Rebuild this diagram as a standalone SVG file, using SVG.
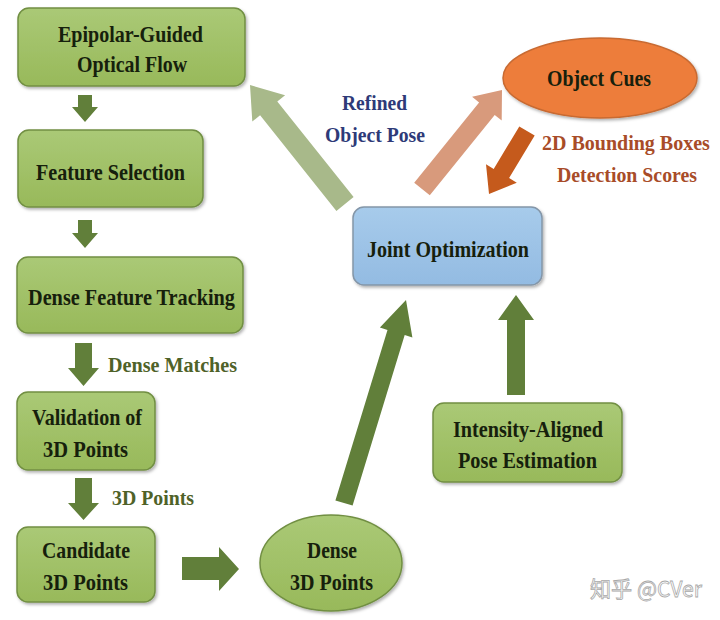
<svg xmlns="http://www.w3.org/2000/svg" width="720" height="620" viewBox="0 0 720 620">
<defs>
<linearGradient id="g" x1="0" y1="0" x2="0" y2="1"><stop offset="0" stop-color="#aac976"/><stop offset="1" stop-color="#98b95a"/></linearGradient>
<linearGradient id="b" x1="0" y1="0" x2="0" y2="1"><stop offset="0" stop-color="#a7cbeb"/><stop offset="1" stop-color="#93bbe2"/></linearGradient>
<filter id="sh" x="-10%" y="-10%" width="125%" height="130%"><feDropShadow dx="1.5" dy="2" stdDeviation="1.5" flood-color="#000" flood-opacity="0.3"/></filter>
<style>
.box{fill:url(#g);stroke:#718f43;stroke-width:1.5;filter:url(#sh)}
.t{font-family:"Liberation Serif","Times New Roman",serif;font-weight:bold;font-size:24px;fill:#16200c}
.lab{font-family:"Liberation Serif","Times New Roman",serif;font-weight:bold;font-size:22px}
.dg{fill:#617f3a}
</style>
</defs>
<rect width="720" height="620" fill="#fff"/>
<g id="connectors">
<polygon class="dg" points="78,95 92,95 92,107 98,107 85,122 72,107 78,107"/>
<polygon class="dg" points="78,220 92,220 92,233 98,233 85,248 72,233 78,233"/>
<polygon class="dg" points="75,343 92,343 92,368 99,368 83.5,386 68,368 75,368"/>
<polygon class="dg" points="75,478 92,478 92,503 99,503 83.5,520 68,503 75,503"/>
<polygon class="dg" points="182,557 219,557 219,547 239,569 219,591 219,580 182,580"/>
<polygon class="dg" points="352.6,505.6 404.7,335.1 412.4,337.5 406,300 379.9,327.5 387.5,329.9 335.4,500.4"/>
<polygon class="dg" points="507,395 507,320 498,320 516,295 534,320 525,320 525,395"/>
<polygon fill="#a8b98a" points="353.6,197.1 277.3,101.5 285.1,95.3 250,85 252.3,121.5 260.1,115.3 336.4,210.9"/>
<polygon fill="#d89a7c" points="429.8,195.3 494.7,115 501.7,120.6 502,90 472.1,96.8 479.1,102.4 414.2,182.7"/>
<polygon fill="#c55a1c" points="519.3,126.4 493.7,168.9 486,164.2 489,194 516.8,182.8 509.1,178.1 534.7,135.6"/>
<text class="lab" x="108" y="372" textLength="129" lengthAdjust="spacingAndGlyphs" fill="#4f6228">Dense Matches</text>
<text class="lab" x="112" y="505" textLength="82" lengthAdjust="spacingAndGlyphs" fill="#4f6228">3D Points</text>
<text class="lab" x="342" y="110" textLength="65" lengthAdjust="spacingAndGlyphs" fill="#2e3a78">Refined</text>
<text class="lab" x="325" y="142" textLength="100" lengthAdjust="spacingAndGlyphs" fill="#2e3a78">Object Pose</text>
<text class="lab" transform="translate(542,150) scale(0.91,1)" fill="#a84c28">2D Bounding Boxes</text>
<text class="lab" x="557" y="182" textLength="140" lengthAdjust="spacingAndGlyphs" fill="#a84c28">Detection Scores</text>
</g>
<g id="n1"><rect class="box" x="18" y="8" width="227" height="78" rx="11"/>
<text class="t" x="58" y="42" textLength="145" lengthAdjust="spacingAndGlyphs">Epipolar-Guided</text>
<text class="t" x="77" y="72" textLength="110" lengthAdjust="spacingAndGlyphs">Optical Flow</text></g>
<g id="n2"><rect class="box" x="18" y="130" width="185" height="77" rx="11"/>
<text class="t" x="36" y="180" textLength="149" lengthAdjust="spacingAndGlyphs">Feature Selection</text></g>
<g id="n3"><rect class="box" x="17" y="257" width="226" height="76" rx="11"/>
<text class="t" x="28" y="305" textLength="207" lengthAdjust="spacingAndGlyphs">Dense Feature Tracking</text></g>
<g id="n4"><rect class="box" x="17" y="392" width="138" height="78" rx="11"/>
<text class="t" x="32" y="425" textLength="110" lengthAdjust="spacingAndGlyphs">Validation of</text>
<text class="t" x="43" y="457" textLength="85" lengthAdjust="spacingAndGlyphs">3D Points</text></g>
<g id="n5"><rect class="box" x="17" y="527" width="138" height="75" rx="11"/>
<text class="t" x="42" y="558" textLength="88" lengthAdjust="spacingAndGlyphs">Candidate</text>
<text class="t" x="43" y="590" textLength="85" lengthAdjust="spacingAndGlyphs">3D Points</text></g>
<g id="n6"><ellipse cx="331" cy="563" rx="71" ry="48" fill="url(#g)" stroke="#718f43" stroke-width="1.5" filter="url(#sh)"/>
<text class="t" x="307" y="558" textLength="50" lengthAdjust="spacingAndGlyphs">Dense</text>
<text class="t" x="290" y="590" textLength="83" lengthAdjust="spacingAndGlyphs">3D Points</text></g>
<g id="n7"><rect x="353" y="207" width="189" height="78" rx="11" fill="url(#b)" stroke="#8496a8" stroke-width="1.5" filter="url(#sh)"/>
<text class="t" x="367" y="257" textLength="162" lengthAdjust="spacingAndGlyphs" fill="#1f2f5c">Joint Optimization</text></g>
<g id="n8"><rect class="box" x="433" y="403" width="189" height="79" rx="11"/>
<text class="t" x="453" y="437" textLength="150" lengthAdjust="spacingAndGlyphs">Intensity-Aligned</text>
<text class="t" x="458" y="468" textLength="139" lengthAdjust="spacingAndGlyphs">Pose Estimation</text></g>
<g id="n9"><ellipse cx="600" cy="78" rx="97" ry="40" fill="#ed7d3a" stroke="#c86a32" stroke-width="1.5" filter="url(#sh)"/>
<text class="t" x="547" y="86" textLength="104" lengthAdjust="spacingAndGlyphs" fill="#1e0e06">Object Cues</text></g>
<text x="590" y="597" font-family="'Noto Sans CJK SC','Noto Sans',sans-serif" font-size="22" fill="#fff" stroke="#a8a8a8" stroke-width="0.8" textLength="112" lengthAdjust="spacingAndGlyphs">知乎 @CVer</text>
</svg>
